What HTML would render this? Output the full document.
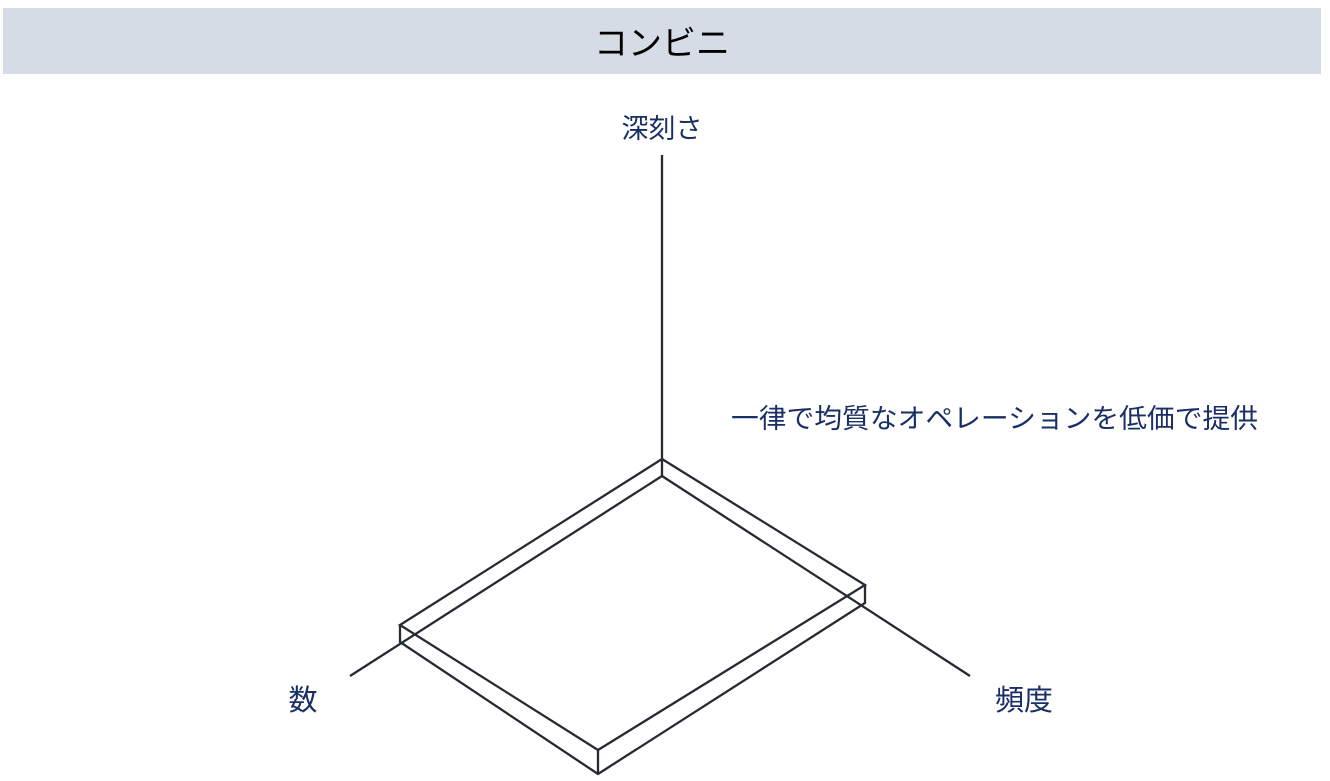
<!DOCTYPE html>
<html><head><meta charset="utf-8"><style>
html,body{margin:0;padding:0;background:#fff;}
svg{display:block;}
text{font-family:"Liberation Sans","Noto Sans CJK JP",sans-serif;}
</style></head><body>
<svg width="1330" height="781" viewBox="0 0 1330 781" xmlns="http://www.w3.org/2000/svg">
<rect x="3" y="8" width="1318" height="66" fill="#d6dce5"/>
<text x="662" y="55" font-size="34" text-anchor="middle" fill="#000">コンビニ</text>
<g fill="#1a2f66" font-size="27">
<text x="662" y="138" text-anchor="middle">深刻さ</text>
<text x="731" y="428" textLength="527" lengthAdjust="spacingAndGlyphs">一律で均質なオペレーションを低価で提供</text>
<text x="303" y="710" text-anchor="middle" font-size="29">数</text>
<text x="1024" y="710" text-anchor="middle" font-size="29">頻度</text>
</g>
<g stroke="#262b33" stroke-width="2.3" fill="none" stroke-linejoin="miter">
<line x1="662" y1="155" x2="662" y2="476"/>
<polygon points="662,459 865,585 598,750 400,625"/>
<polyline points="400,625 400,642 598,774 865,603 865,585"/>
<line x1="598" y1="750" x2="598" y2="774"/>
<line x1="662" y1="476" x2="350" y2="676"/>
<line x1="662" y1="476" x2="970" y2="676"/>
</g>
</svg>
</body></html>
